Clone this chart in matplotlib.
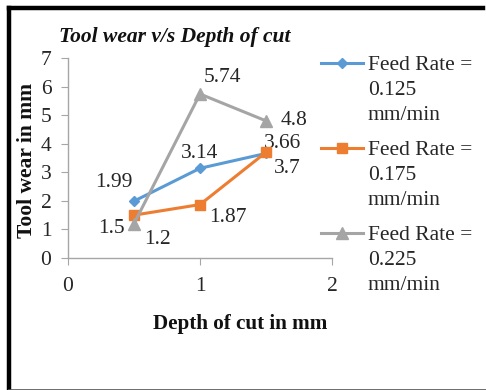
import matplotlib
matplotlib.use("Agg")
import matplotlib.pyplot as plt
from matplotlib.lines import Line2D
from matplotlib.text import Annotation

plt.rcParams['font.family'] = ['Liberation Serif', 'DejaVu Serif']

depth = [0.5, 1.0, 1.5]
wear_0125 = [1.99, 3.14, 3.66]
wear_0175 = [1.5, 1.87, 3.7]
wear_0225 = [1.2, 5.74, 4.8]
feed_rates = ["0.125", "0.175", "0.225"]
legend_head = "Feed Rate ="
legend_unit = "mm/min"
colors = ["#5B9BD5", "#ED7D31", "#A5A5A5"]
markers = ["D", "s", "^"]
msizes = [5.5, 7, 8]
# label offsets in pixels
offsets = [
    [(-20, 19), (0, 15), (16, 10)],
    [(-23, -13), (28, -13), (21, -16)],
    [(23, -16), (22, 17), (28, 0)],
]

FS = 15.5
W, H = 486, 390
fig = plt.figure(figsize=(W / 100, H / 100), dpi=100)
ax = fig.add_axes([68 / W, 1 - 258 / H, (332 - 68) / W, 200 / H])

all_series = [wear_0125, wear_0175, wear_0225]
for ys, c, m, ms, offs in zip(all_series, colors, markers, msizes, offsets):
    ax.plot(depth, ys, color=c, lw=2.2, marker=m, markersize=ms, label=legend_head, zorder=3)
    for x, y, o in zip(depth, ys, offs):
        ax.annotate(f"{y:g}", (x, y), xytext=o, textcoords="offset pixels",
                    ha="center", va="center", fontsize=FS, color="#262626")

ax.set_xlim(0, 2)
ax.set_ylim(0, 7)
ax.set_xticks([0, 1, 2])
ax.set_yticks(range(8))
for s in ["top", "right"]:
    ax.spines[s].set_visible(False)
for s in ["left", "bottom"]:
    ax.spines[s].set_color("#A6A6A6")
    ax.spines[s].set_linewidth(1)
ax.tick_params(axis="both", colors="#A6A6A6", labelcolor="#262626", labelsize=FS, length=5, direction="out")
ax.tick_params(axis="y", pad=7)
ax.tick_params(axis="x", pad=9)
ax.patch.set_alpha(0)

fig.text(175 / W, 1 - 37 / H, "Tool wear v/s Depth of cut", ha="center", va="center",
         fontsize=FS, fontweight="bold", fontstyle="italic", color="#111111")
fig.text(27 / W, 1 - 160 / H, "Tool wear in mm", ha="center", va="center", rotation=90,
         fontsize=15.5, fontweight="bold", color="#111111")
fig.text(240 / W, 1 - 324 / H, "Depth of cut in mm", ha="center", va="center",
         fontsize=15.2, fontweight="bold", color="#111111")

leg = fig.legend(loc="upper left", bbox_to_anchor=(321 / W, 1 - 55 / H), frameon=False,
                 fontsize=FS, handlelength=1.95, handletextpad=0.23, labelspacing=3.02,
                 borderaxespad=0, borderpad=0)
for t, fr in zip(leg.get_texts(), feed_rates):
    t.set_color("#262626")
    ann = Annotation(f"{fr}\n{legend_unit}", xy=(0, 0), xycoords=t, xytext=(0, -6),
                     textcoords="offset pixels", ha="left", va="top",
                     fontsize=FS, color="#262626", linespacing=1.4, zorder=6)
    fig.add_artist(ann)

# outer frame
fig.add_artist(Line2D([9 / W, 9 / W], [1 - 8 / H, 0], color="black", lw=3.2, transform=fig.transFigure))
fig.add_artist(Line2D([9 / W, 483 / W], [1 - 8 / H, 1 - 8 / H], color="black", lw=3.2, transform=fig.transFigure))
fig.add_artist(Line2D([9 / W, 1], [0.5 / H, 0.5 / H], color="#555555", lw=1.2, transform=fig.transFigure))

fig.savefig("out.png", dpi=100)
